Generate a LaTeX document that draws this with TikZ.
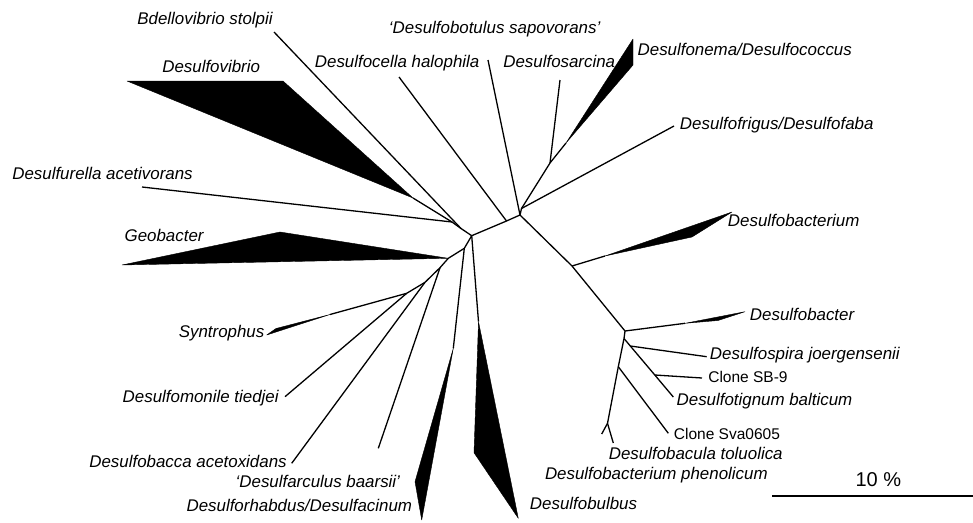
\documentclass[tikz,border=0pt]{standalone}
\usepackage{fontspec}
\setmainfont{Liberation Sans}
\usetikzlibrary{calc}

\begin{document}
\begin{tikzpicture}[x=1pt, y=-1pt, line width=1.3pt, line join=round, font=\fontsize{16.9}{18}\selectfont\itshape]
    \tikzstyle{taxon}=[inner sep=0pt, text height=12pt, text depth=0pt]
    \tikzstyle{clone}=[taxon, font=\fontsize{15.5}{17}\selectfont\upshape]
    \tikzstyle{clade}=[fill=black, draw=black, line width=0.4pt]

    \useasboundingbox (0,0) rectangle (973,522);

    % inner nodes
    \coordinate (hubL) at (471.7,235.7);
    \coordinate (hubT) at (520,215);
    \coordinate (hubTs) at (521.5,208.5);
    \coordinate (hubC) at (550,163);
    \coordinate (celJ) at (506.5,221);
    \coordinate (vibJ) at (452,222);
    \coordinate (bdeJ) at (461,228.5);
    \coordinate (rhaJ) at (464.3,248.3);
    \coordinate (geoJ) at (448.3,258.3);
    \coordinate (farJ) at (440,267.7);
    \coordinate (bacJ) at (425,282.3);
    \coordinate (synJ) at (406.7,293.3);
    \coordinate (bcmJ) at (572,266);
    \coordinate (btrJ) at (625,331);
    \coordinate (spiJ) at (624,338.5);
    \coordinate (spiK) at (630.3,346);
    \coordinate (sb9K) at (654.8,375);
    \coordinate (tolJ) at (618.3,366.7);
    \coordinate (phJ) at (607.5,423.3);

    % leaf ends
    \coordinate (bdelE) at (274,32);
    \coordinate (dvibA) at (413,198);
    \coordinate (dfurE) at (142,187);
    \coordinate (drhaA) at (453.3,348.3);
    \coordinate (dbulA) at (478.5,321.7);
    \coordinate (dfarE) at (378.3,448.3);
    \coordinate (dbacE) at (291.7,463.3);
    \coordinate (dmonE) at (285,396.7);
    \coordinate (dsynA) at (330,314.5);
    \coordinate (dbotE) at (488,60);
    \coordinate (dcelE) at (399,77);
    \coordinate (dsarE) at (560,80);
    \coordinate (dnemA) at (566,143);
    \coordinate (dfriE) at (674,126);
    \coordinate (dbcmA) at (605,256);
    \coordinate (dbtrA) at (685,323.3);
    \coordinate (dtigE) at (673.3,397);
    \coordinate (dspiE) at (706.7,356.7);
    \coordinate (sb9E) at (702,378);
    \coordinate (svaE) at (668.3,433.3);
    \coordinate (dpheE) at (601.7,434);
    \coordinate (dtolE) at (613.3,443);

    % branches
    \draw (hubL) -- (celJ) -- (hubT) -- (hubTs) -- (hubC);
    \draw (hubL) -- (bdeJ) -- (vibJ);
    \draw (bdeJ) -- (bdelE);
    \draw (vibJ) -- (dvibA);
    \draw (vibJ) -- (dfurE);
    \draw (hubL) -- (rhaJ) -- (geoJ) -- (farJ) -- (bacJ) -- (synJ);
    \draw (rhaJ) -- (drhaA);
    \draw (hubL) -- (dbulA);
    \draw (farJ) -- (dfarE);
    \draw (bacJ) -- (dbacE);
    \draw (synJ) -- (dmonE);
    \draw (synJ) -- (dsynA);
    \draw (hubT) -- (dbotE);
    \draw (celJ) -- (dcelE);
    \draw (hubC) -- (dsarE);
    \draw (hubC) -- (dnemA);
    \draw (hubTs) -- (dfriE);
    \draw (hubT) -- (bcmJ) -- (btrJ) -- (spiJ);
    \draw (bcmJ) -- (dbcmA);
    \draw (btrJ) -- (dbtrA);
    \draw (spiJ) -- (spiK) -- (sb9K) -- (dtigE);
    \draw (spiK) -- (dspiE);
    \draw (sb9K) -- (sb9E);
    \draw (spiJ) -- (tolJ) -- (phJ);
    \draw (tolJ) -- (svaE);
    \draw (phJ) -- (dpheE);
    \draw (phJ) -- (dtolE);

    % collapsed clades
    \filldraw[clade] (dvibA) -- (127,81) -- (283,81) -- cycle;
    \filldraw[clade] (geoJ) -- (122,265) -- (280,232) -- cycle;
    \filldraw[clade] (dsynA) -- (276,328.5) -- (266.7,335) -- cycle;
    \filldraw[clade] (drhaA) -- (415,481.7) -- (421.7,520) -- cycle;
    \filldraw[clade] (dbulA) -- (518.3,518.3) -- (474,452.7) -- cycle;
    \filldraw[clade] (dnemA) -- (633,39) -- (633,65) -- cycle;
    \filldraw[clade] (dbcmA) -- (732,212) -- (692,237) -- cycle;
    \filldraw[clade] (dbtrA) -- (745,311.7) -- (718,320.5) -- cycle;

    % labels
    \node[taxon, anchor=west] (bdel) at (136.7,18.3) {Bdellovibrio stolpii};
    \node[taxon, anchor=west] (dvib) at (161.7,66.7) {Desulfovibrio};
    \node[taxon, anchor=west] (dfur) at (11.7,173.3) {Desulfurella acetivorans};
    \node[taxon, anchor=west] (geob) at (124,235) {Geobacter};
    \node[taxon, anchor=east] (dsyn) at (265,331.7) {Syntrophus};
    \node[taxon, anchor=east] (dmon) at (279.3,396.7) {Desulfomonile tiedjei};
    \node[taxon, anchor=east] (dbac) at (287.3,461.7) {Desulfobacca acetoxidans};
    \node[taxon, anchor=west] (dfar) at (235,481) {`Desulfarculus baarsii'};
    \node[taxon, anchor=east] (drha) at (412.7,505) {Desulforhabdus/Desulfacinum};
    \node[taxon, anchor=west] (dbul) at (529.3,503.3) {Desulfobulbus};
    \node[taxon, anchor=east] (dphe) at (768.3,473.3) {Desulfobacterium phenolicum};
    \node[taxon, anchor=east] (dtol) at (783.3,453.3) {Desulfobacula toluolica};
    \node[clone, anchor=west] (sva) at (673.3,433.3) {Clone Sva0605};
    \node[taxon, anchor=west] (dtig) at (676,399.3) {Desulfotignum balticum};
    \node[clone, anchor=west] (sb9) at (707.7,376.7) {Clone SB-9};
    \node[taxon, anchor=west] (dspi) at (709.3,353.3) {Desulfospira joergensenii};
    \node[taxon, anchor=west] (dbtr) at (749.3,314.3) {Desulfobacter};
    \node[taxon, anchor=west] (dbcm) at (727.3,220) {Desulfobacterium};
    \node[taxon, anchor=west] (dfri) at (679.3,123.3) {Desulfofrigus/Desulfofaba};
    \node[taxon, anchor=west] (dnem) at (637,49.3) {Desulfonema/Desulfococcus};
    \node[taxon, anchor=west] (dsar) at (502.7,61.7) {Desulfosarcina};
    \node[taxon, anchor=east] (dcel) at (480,61.7) {Desulfocella halophila};
    \node[taxon, anchor=west] (dbot) at (388.3,27.3) {`Desulfobotulus sapovorans'};

    % scale bar
    \coordinate (barL) at (772,496);
    \coordinate (barR) at (973,496);
    \draw[line width=2pt] (barL) -- (barR);
    \node[inner sep=0pt, font=\fontsize{20}{22}\selectfont\upshape] (bar) at (878.3,480) {10 \%};
\end{tikzpicture}
\end{document}
